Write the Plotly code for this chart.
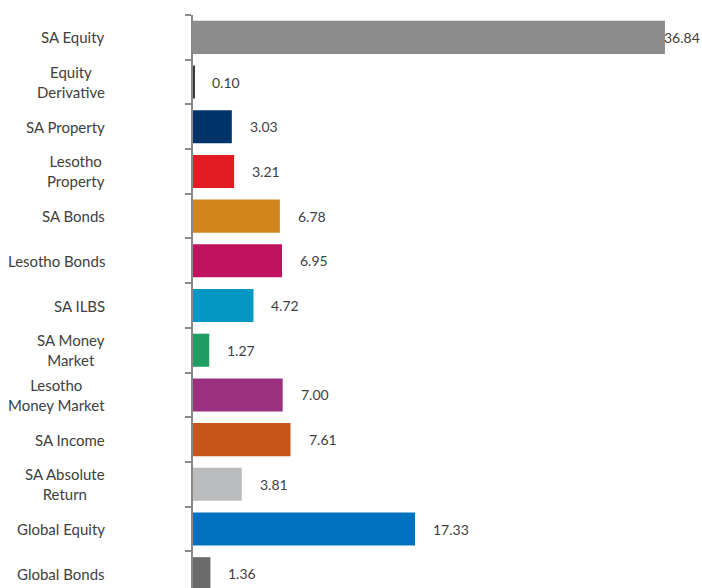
import plotly.graph_objects as go

categories = ["SA Equity", "Equity<br>Derivative", "SA Property", "Lesotho<br>Property",
              "SA Bonds", "Lesotho Bonds", "SA ILBS", "SA Money<br>Market",
              "Lesotho<br>Money Market", "SA Income", "SA Absolute<br>Return",
              "Global Equity", "Global Bonds"]
values = [36.84, 0.10, 3.03, 3.21, 6.78, 6.95, 4.72, 1.27, 7.00, 7.61, 3.81, 17.33, 1.36]
value_labels = ["36.84", "0.10", "3.03", "3.21", "6.78", "6.95", "4.72", "1.27",
                "7.00", "7.61", "3.81", "17.33", "1.36"]
colors = ["#8c8c8c", "#3a3a3a", "#00336a", "#e31b23", "#d0861c", "#c0135f", "#0497c4",
          "#1f9e63", "#9b307f", "#c8561c", "#bbbcbe", "#0070c0", "#6b6b6b"]

FONT = "Lato"
TXT = "#404040"
FS = 15
VFS = 14

keys = [f"c{i}" for i in range(len(categories))]
XMAX = 39.73

fig = go.Figure()
fig.add_trace(go.Bar(
    x=values, y=keys, orientation="h",
    marker=dict(color=colors, line=dict(width=0)),
    hoverinfo="skip",
))

annotations = []
for k, lab in zip(keys, categories):
    annotations.append(dict(
        x=0, xref="paper", y=k, yref="y", text=lab, showarrow=False,
        xanchor="right", yanchor="middle", align="center", xshift=-86,
        font=dict(family=FONT, size=FS, color=TXT),
    ))

for k, v, t in zip(keys, values, value_labels):
    if v < 0.85 * XMAX:
        annotations.append(dict(
            x=v, xref="x", y=k, yref="y", text=t, showarrow=False,
            xanchor="left", yanchor="middle", xshift=16,
            font=dict(family=FONT, size=VFS, color=TXT),
        ))
    else:
        annotations.append(dict(
            x=1, xref="paper", y=k, yref="y", text=t, showarrow=False,
            xanchor="right", yanchor="middle", xshift=0,
            font=dict(family=FONT, size=VFS, color=TXT),
        ))

fig.update_layout(
    width=702, height=588,
    margin=dict(l=193, r=0, t=15, b=0),
    paper_bgcolor="white", plot_bgcolor="white",
    showlegend=False,
    bargap=0.26,
    xaxis=dict(range=[0, XMAX], visible=False, fixedrange=True),
    yaxis=dict(type="category", categoryorder="array", categoryarray=keys,
               range=[12.32, -0.5], tickson="boundaries", ticks="outside",
               ticklen=6, tickwidth=2, tickcolor="#898989", showticklabels=False,
               showline=True, linewidth=2, linecolor="#898989", showgrid=False,
               zeroline=False, fixedrange=True),
    annotations=annotations,
)

fig.write_html("out.html")
